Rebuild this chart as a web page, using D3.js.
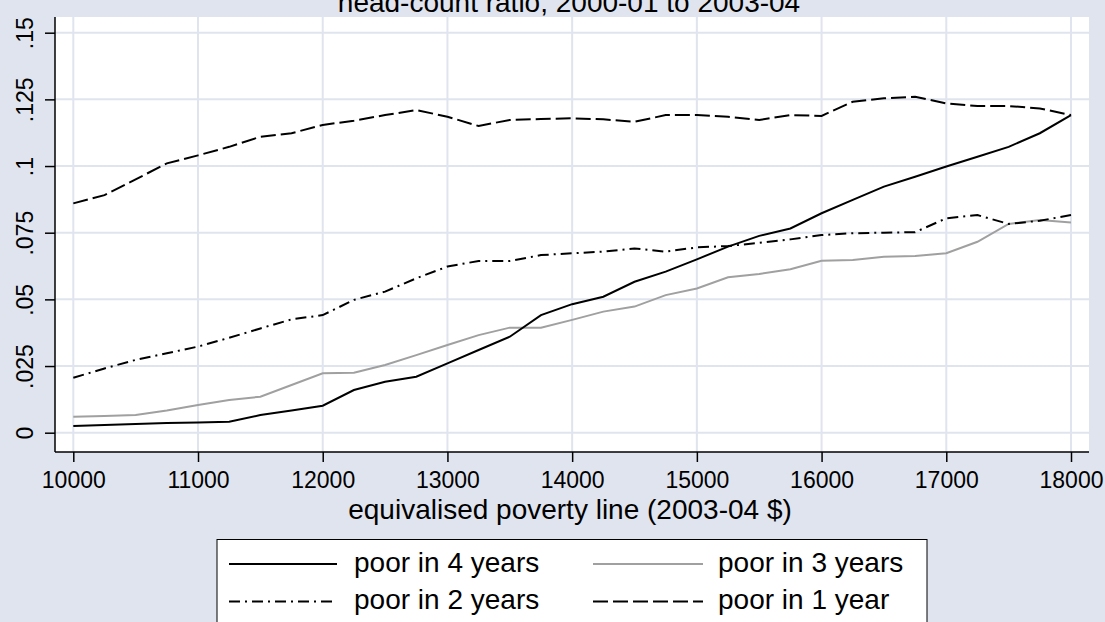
<!DOCTYPE html>
<html>
<head>
    <title>Head-count ratio by poverty line</title>
    <script src="https://cdn.jsdelivr.net/npm/d3@7"></script>
</head>

<style>
    body{
        margin:0;
        background-color: #dfe4ee;
        font-family: 'Liberation Sans', Arial, sans-serif;
    }
    svg { display:block; }
</style>

<body>
    <div id="chart"></div>
</body>

<script>

    // poverty lines, one point every $250
    var povLine = [10000,10250,10500,10750,11000,11250,11500,11750,12000,12250,12500,12750,
        13000,13250,13500,13750,14000,14250,14500,14750,15000,15250,15500,15750,
        16000,16250,16500,16750,17000,17250,17500,17750,18000];

    var poor4 = [.0025,.0029,.0033,.0036,.0038,.0041,.0066,.0083,.0101,.0160,.0191,.0210,
        .0260,.0310,.0360,.0441,.0482,.0510,.0566,.0604,.0650,.0698,.0738,.0766,
        .0823,.0873,.0923,.0960,.0998,.1035,.1072,.1123,.1191];

    var poor3 = [.0060,.0063,.0066,.0083,.0104,.0123,.0135,.0179,.0223,.0225,.0254,.0291,
        .0329,.0366,.0394,.0394,.0423,.0454,.0473,.0516,.0541,.0583,.0595,.0613,
        .0645,.0648,.0660,.0663,.0673,.0716,.0783,.0798,.0788];

    var poor2 = [.0206,.0241,.0273,.0298,.0323,.0356,.0391,.0425,.0441,.0498,.0529,.0579,
        .0623,.0644,.0644,.0666,.0673,.0679,.0691,.0679,.0695,.0700,.0712,.0725,
        .0741,.0748,.0750,.0752,.0804,.0816,.0783,.0795,.0816];

    var poor1 = [.0860,.0891,.0950,.1010,.1040,.1072,.1110,.1123,.1154,.1170,.1191,.1210,
        .1185,.1150,.1173,.1176,.1179,.1175,.1166,.1191,.1191,.1185,.1173,.1191,
        .1188,.1241,.1254,.1260,.1235,.1225,.1225,.1216,.1191];

    var xTicks = [10000,11000,12000,13000,14000,15000,16000,17000,18000];
    var yTicks = [0,.025,.05,.075,.1,.125,.15];
    var yTickLabels = ["0",".025",".05",".075",".1",".125",".15"];

    var seriesNames = ["poor in 4 years","poor in 3 years","poor in 2 years","poor in 1 year"];

    var width = 1105, height = 622;
    var plot = {left: 55, right: 1089, top: 17, bottom: 452};

    var svg = d3.select("#chart").append("svg")
        .attr("width", width)
        .attr("height", height);

    var xScale = d3.scaleLinear().domain([10000, 18000]).range([73.3, 1071]);
    var yScale = d3.scaleLinear().domain([0, .15]).range([432.7, 32.7]);

    // title, mostly cut off at the top edge (as in the original)
    svg.append("text")
        .attr("x", 569)
        .attr("y", 12)
        .attr("text-anchor", "middle")
        .style("font-size", "28px")
        .text("head-count ratio, 2000-01 to 2003-04");

    // plot region
    svg.append("rect")
        .attr("x", plot.left)
        .attr("y", plot.top)
        .attr("width", plot.right - plot.left)
        .attr("height", plot.bottom - plot.top)
        .attr("fill", "#fff");

    // grid
    svg.append("g").selectAll("line")
        .data(xTicks)
        .enter().append("line")
        .attr("x1", xScale).attr("x2", xScale)
        .attr("y1", plot.top).attr("y2", plot.bottom)
        .attr("stroke", "#dfe4ee")
        .attr("stroke-width", 2);

    svg.append("g").selectAll("line")
        .data(yTicks)
        .enter().append("line")
        .attr("y1", yScale).attr("y2", yScale)
        .attr("x1", plot.left).attr("x2", plot.right)
        .attr("stroke", "#dfe4ee")
        .attr("stroke-width", 2);

    // x-axis
    var xAxis = d3.axisBottom(xScale).tickValues(xTicks).tickSize(10).tickFormat(d3.format("d"));
    var gx = svg.append("g")
        .attr("transform", "translate(0," + plot.bottom + ")")
        .call(xAxis);
    gx.select(".domain").remove();
    gx.selectAll("line").attr("stroke", "#000").attr("stroke-width", 1.5);
    gx.selectAll("text")
        .attr("y", 35.5).attr("dy", 0)
        .attr("fill", "#000")
        .style("font-size", "23px")
        .style("font-family", "'Liberation Sans', Arial, sans-serif");

    // y-axis
    var yAxis = d3.axisLeft(yScale).tickValues(yTicks).tickSize(10)
        .tickFormat(function(d, i) { return yTickLabels[i]; });
    var gy = svg.append("g")
        .attr("transform", "translate(" + plot.left + ",0)")
        .call(yAxis);
    gy.select(".domain").remove();
    gy.selectAll("line").attr("stroke", "#000").attr("stroke-width", 1.5);
    gy.selectAll("text")
        .attr("transform", "rotate(-90)")
        .attr("x", 0).attr("y", -22).attr("dy", 0)
        .attr("text-anchor", "middle")
        .attr("fill", "#000")
        .style("font-size", "23px")
        .style("font-family", "'Liberation Sans', Arial, sans-serif");

    // axis lines
    svg.append("line")
        .attr("x1", plot.left).attr("x2", plot.right)
        .attr("y1", plot.bottom).attr("y2", plot.bottom)
        .attr("stroke", "#000").attr("stroke-width", 1.5);
    svg.append("line")
        .attr("x1", plot.left).attr("x2", plot.left)
        .attr("y1", plot.top).attr("y2", plot.bottom)
        .attr("stroke", "#000").attr("stroke-width", 1.5);

    svg.append("text")
        .attr("x", 570)
        .attr("y", 519)
        .attr("text-anchor", "middle")
        .style("font-size", "28px")
        .text("equivalised poverty line (2003-04 $)");

    // series styles: solid black, grey, dash-dot, dash
    var styles = [
        {color: "#000", dash: null},
        {color: "#a0a0a0", dash: null},
        {color: "#000", dash: "11,5,2,5"},
        {color: "#000", dash: "15,5"}
    ];
    var series = [poor4, poor3, poor2, poor1];

    var line = d3.line()
        .x(function(d, i) { return xScale(povLine[i]); })
        .y(function(d) { return yScale(d); });

    // draw grey first so black lines sit on top
    [1, 0, 2, 3].forEach(function(k) {
        svg.append("path")
            .datum(series[k])
            .attr("d", line)
            .attr("fill", "none")
            .attr("stroke", styles[k].color)
            .attr("stroke-width", 2)
            .attr("stroke-dasharray", styles[k].dash);
    });

    // legend
    var legend = svg.append("g");
    legend.append("rect")
        .attr("x", 217).attr("y", 539.5)
        .attr("width", 710).attr("height", 120)
        .attr("fill", "#fff")
        .attr("stroke", "#000")
        .attr("stroke-width", 1);

    var legPos = [
        {x1: 229, x2: 337, tx: 354, y: 564},
        {x1: 593, x2: 703, tx: 718, y: 564},
        {x1: 229, x2: 337, tx: 354, y: 601.5},
        {x1: 593, x2: 703, tx: 718, y: 601.5}
    ];

    legPos.forEach(function(p, k) {
        legend.append("line")
            .attr("x1", p.x1).attr("x2", p.x2)
            .attr("y1", p.y).attr("y2", p.y)
            .attr("stroke", styles[k].color)
            .attr("stroke-width", 2)
            .attr("stroke-dasharray", styles[k].dash);
        legend.append("text")
            .attr("x", p.tx)
            .attr("y", p.y + 7.5)
            .style("font-size", "28px")
            .text(seriesNames[k]);
    });

</script>

</html>
